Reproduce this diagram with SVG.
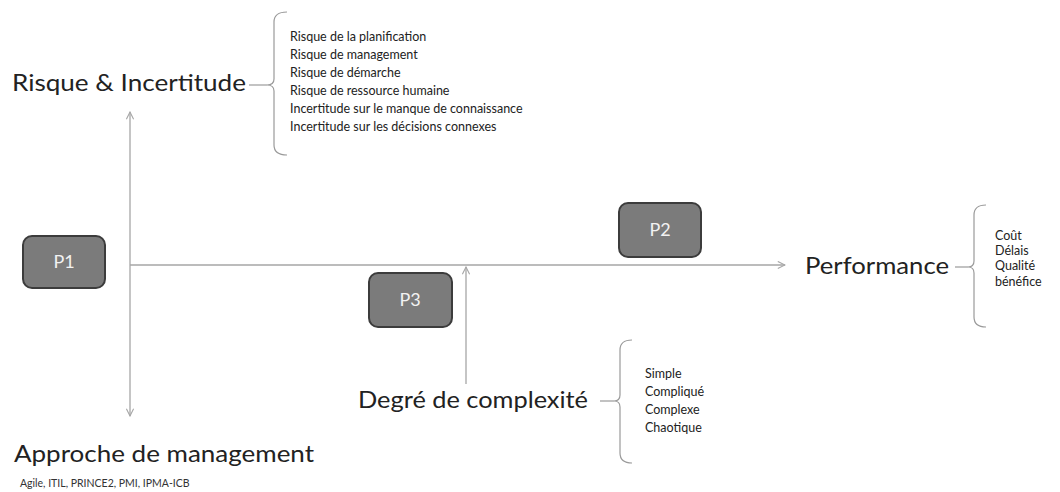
<svg xmlns="http://www.w3.org/2000/svg" width="1060" height="492" viewBox="0 0 1060 492">
<defs>
<style>
.lbl{font-family:Lato,"Open Sans","Liberation Sans",sans-serif;font-size:24px;fill:#222}
.lst{font-family:Lato,"Open Sans","Liberation Sans",sans-serif;font-size:12.5px;fill:#222}
.small{font-family:Lato,"Open Sans","Liberation Sans",sans-serif;font-size:10.5px;fill:#333}
.box{fill:#7b7b7b;stroke:#3c3c3c;stroke-width:2}
.btxt{font-family:Lato,"Open Sans","Liberation Sans",sans-serif;font-size:18px;fill:#f2f2f2;text-anchor:middle}
.ax{stroke:#a6a6a6;stroke-width:1.3;fill:none}
.br{stroke:#9a9a9a;stroke-width:1.2;fill:none}
</style>
<marker id="arr" viewBox="0 0 10 10" refX="9" refY="5" markerWidth="9" markerHeight="9" markerUnits="userSpaceOnUse" orient="auto">
<path d="M1,1 L9,5 L1,9" fill="none" stroke="#a6a6a6" stroke-width="1.2"/>
</marker>
</defs>
<rect width="1060" height="492" fill="#fff"/>
<g id="connectors">
<line class="ax" x1="130" y1="265" x2="130" y2="112" marker-end="url(#arr)"/>
<line class="ax" x1="130" y1="265" x2="130" y2="416" marker-end="url(#arr)"/>
<line class="ax" x1="130" y1="265" x2="785" y2="265" marker-end="url(#arr)"/>
<line class="ax" x1="466" y1="384" x2="466" y2="267" marker-end="url(#arr)"/>
</g>
<g id="risque">
<text class="lbl" x="12" y="91" textLength="234" lengthAdjust="spacingAndGlyphs">Risque &amp; Incertitude</text>
<line class="br" x1="249" y1="85" x2="267" y2="85"/>
<path class="br" d="M287,12 Q274,12 274,22 L274,79 Q274,85 267,85 Q274,85 274,91 L274,145 Q274,155 287,155"/>
<text class="lst" x="290" y="41">Risque de la planification</text>
<text class="lst" x="290" y="59">Risque de management</text>
<text class="lst" x="290" y="77">Risque de démarche</text>
<text class="lst" x="290" y="95">Risque de ressource humaine</text>
<text class="lst" x="290" y="113">Incertitude sur le manque de connaissance</text>
<text class="lst" x="290" y="131">Incertitude sur les décisions connexes</text>
</g>
<g id="performance">
<text class="lbl" x="805" y="274" textLength="144" lengthAdjust="spacingAndGlyphs">Performance</text>
<line class="br" x1="955" y1="267" x2="968" y2="267"/>
<path class="br" d="M986,205 Q974,205 974,215 L974,261 Q974,267 968,267 Q974,267 974,273 L974,317 Q974,327 986,327"/>
<text class="lst" x="995" y="240">Coût</text>
<text class="lst" x="995" y="255">Délais</text>
<text class="lst" x="995" y="270">Qualité</text>
<text class="lst" x="995" y="286">bénéfice</text>
</g>
<g id="complexite">
<text class="lbl" x="358" y="408" textLength="230" lengthAdjust="spacingAndGlyphs">Degré de complexité</text>
<line class="br" x1="600" y1="401" x2="614" y2="401"/>
<path class="br" d="M632,340 Q620,340 620,350 L620,395 Q620,401 614,401 Q620,401 620,407 L620,453 Q620,463 632,463"/>
<text class="lst" x="645" y="378">Simple</text>
<text class="lst" x="645" y="396">Compliqué</text>
<text class="lst" x="645" y="414">Complexe</text>
<text class="lst" x="645" y="432">Chaotique</text>
</g>
<g id="approche">
<text class="lbl" x="14" y="462" textLength="300" lengthAdjust="spacingAndGlyphs">Approche de management</text>
<text class="small" x="20" y="487">Agile, ITIL, PRINCE2, PMI, IPMA-ICB</text>
</g>
<g id="P1">
<rect class="box" x="23" y="236" width="82" height="52" rx="9"/>
<text class="btxt" x="64" y="268">P1</text>
</g>
<g id="P2">
<rect class="box" x="619" y="203" width="82" height="54" rx="9"/>
<text class="btxt" x="660" y="236">P2</text>
</g>
<g id="P3">
<rect class="box" x="369" y="273" width="83" height="54" rx="9"/>
<text class="btxt" x="410" y="306">P3</text>
</g>
</svg>
